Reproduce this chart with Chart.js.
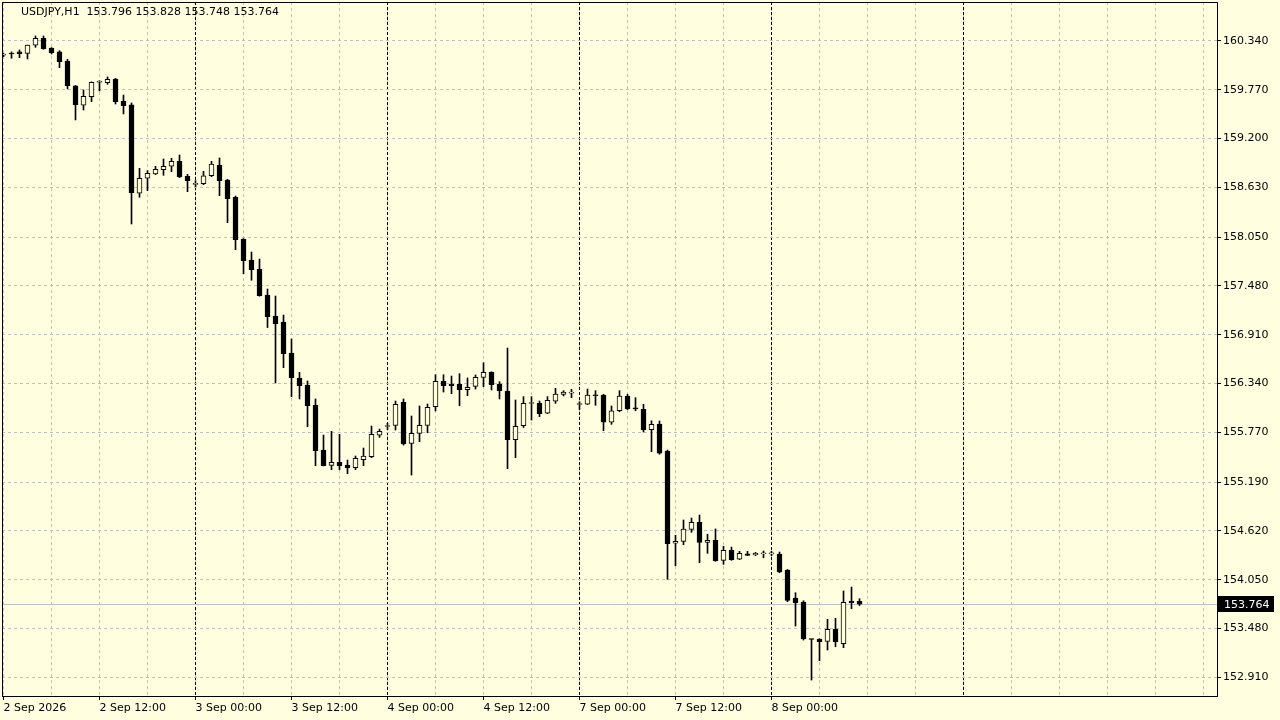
<!DOCTYPE html>
<html><head><meta charset="utf-8">
<script src="https://cdn.jsdelivr.net/npm/chart.js@4.4.1/dist/chart.umd.min.js"></script>
<style>html,body{margin:0;padding:0;background:#FFFFE0;overflow:hidden}#wrap{width:1280px;height:720px;position:relative}</style>
</head><body><div id="wrap"><canvas id="c" width="1280" height="720"></canvas></div>
<script>
const symbol = 'USDJPY,H1';
const opens = [160.175,160.196,160.212,160.196,160.290,160.372,160.258,160.212,160.106,159.815,
159.589,159.690,159.858,159.853,159.893,159.639,159.593,158.562,158.737,158.787,
158.837,158.877,158.935,158.760,158.665,158.674,158.767,158.892,158.717,158.515,
158.028,157.783,157.678,157.374,157.129,157.059,156.697,156.405,156.323,156.090,
155.564,155.385,155.420,155.389,155.357,155.451,155.486,155.736,155.839,155.850,
156.121,155.642,155.759,155.852,156.070,156.366,156.335,156.335,156.268,156.308,
156.413,156.471,156.335,156.253,155.684,155.848,156.107,156.113,155.993,156.133,
156.214,156.228,156.096,156.098,156.206,156.206,155.888,156.023,156.195,156.048,
156.039,155.801,155.868,155.552,154.475,154.498,154.638,154.720,154.486,154.510,
154.276,154.393,154.291,154.353,154.338,154.351,154.352,154.350,154.163,153.836,
153.789,153.355,153.357,153.330,153.470,153.302,153.801,153.796];
const highs = [160.196,160.212,160.235,160.293,160.398,160.398,160.262,160.227,160.126,159.820,
159.768,159.862,159.876,159.920,159.904,159.709,159.616,158.853,158.826,158.877,
158.962,158.970,159.009,158.783,158.709,158.818,158.935,158.974,158.725,158.530,
158.032,157.876,157.794,157.444,157.362,157.140,156.860,156.471,156.370,156.160,
155.739,155.782,155.747,155.447,155.494,155.587,155.844,155.809,155.876,156.136,
156.160,155.961,156.078,156.101,156.443,156.443,156.428,156.455,156.405,156.440,
156.583,156.478,156.362,156.755,156.148,156.187,156.187,156.136,156.187,156.284,
156.257,156.273,156.128,156.276,156.257,156.214,156.078,156.257,156.214,156.175,
156.098,155.906,155.903,155.564,154.568,154.747,154.770,154.805,154.580,154.642,
154.440,154.431,154.381,154.381,154.369,154.385,154.381,154.373,154.169,153.898,
153.804,153.357,153.360,153.587,153.599,153.918,153.964,153.828];
const lows = [160.157,160.138,160.145,160.130,160.266,160.243,160.188,160.028,159.780,159.418,
159.534,159.631,159.756,159.834,159.604,159.488,158.203,158.515,158.592,158.780,
158.772,158.814,158.744,158.580,158.639,158.662,158.755,158.534,158.218,157.903,
157.623,157.546,157.360,156.994,156.347,156.525,156.187,156.160,155.836,155.381,
155.378,155.334,155.334,155.287,155.334,155.381,155.474,155.712,155.801,155.798,
155.622,155.272,155.661,155.766,156.020,156.241,156.221,156.081,156.198,156.276,
156.303,156.265,156.160,155.346,155.474,155.827,155.914,155.953,155.988,156.109,
156.195,156.175,156.039,156.095,156.086,155.789,155.864,156.011,156.035,156.023,
155.774,155.544,155.514,154.054,154.213,154.458,154.603,154.248,154.358,154.264,
154.229,154.276,154.285,154.330,154.330,154.306,154.330,154.131,153.793,153.509,
153.345,152.878,153.104,153.229,153.267,153.256,153.711,153.748];
const closes = [160.180,160.188,160.192,160.293,160.372,160.250,160.203,160.098,159.818,159.596,
159.694,159.858,159.862,159.893,159.631,159.584,158.569,158.737,158.795,158.842,
158.877,158.935,158.755,158.709,158.669,158.764,158.904,158.709,158.499,158.020,
157.775,157.669,157.366,157.121,157.039,156.689,156.408,156.315,156.081,155.556,
155.381,155.420,155.381,155.357,155.467,155.494,155.747,155.782,155.843,156.098,
155.634,155.759,155.852,156.063,156.366,156.315,156.315,156.268,156.296,156.413,
156.471,156.327,156.257,155.684,155.841,156.109,156.111,155.988,156.144,156.218,
156.241,156.232,156.100,156.206,156.198,155.888,156.023,156.195,156.046,156.044,
155.798,155.865,155.526,154.470,154.498,154.642,154.720,154.486,154.510,154.271,
154.393,154.283,154.358,154.334,154.358,154.353,154.354,154.140,153.809,153.781,
153.357,153.352,153.326,153.470,153.326,153.786,153.781,153.764];
const timeTickIndex = [0,12,24,36,48,60,72,84,96];
const timeTickLabels = ['2 Sep 2026','2 Sep 12:00','3 Sep 00:00','3 Sep 12:00','4 Sep 00:00','4 Sep 12:00','7 Sep 00:00','7 Sep 12:00','8 Sep 00:00'];
const daySeparators = [24,48,72,96,120];
const priceTicks = [160.340,159.770,159.200,158.630,158.050,157.480,156.910,156.340,155.770,155.190,154.620,154.050,153.480,152.910];

const BG = '#FFFFE0';
const FONT = 'DejaVu Sans';
Chart.defaults.font.family = FONT;
Chart.defaults.font.size = 11;
Chart.defaults.color = '#000';

const gridIdx = [];
for (let v = 0; v <= 150; v += 6) gridIdx.push(v);
const X_MIN = -0.1875, X_MAX = 151.6875;

const bodies = opens.map((o, i) => ({x: i, y: [o, closes[i]]}));
const wicks = lows.map((l, i) => ({x: i, y: [l, highs[i]]}));
const isBull = i => closes[i] >= opens[i];

const noPad = s => { s.paddingTop = 0; s.paddingBottom = 0; s.paddingLeft = 0; s.paddingRight = 0; };

const decor = {
  id: 'decor',
  beforeDraw(chart) {
    const ctx = chart.ctx;
    ctx.save();
    ctx.fillStyle = BG;
    ctx.fillRect(0, 0, chart.width, chart.height);
    ctx.restore();
  },
  beforeDatasetsDraw(chart) {
    const ctx = chart.ctx, a = chart.chartArea;
    const y = Math.round(chart.scales.y.getPixelForValue(closes[closes.length - 1])) + 0.5;
    ctx.save();
    ctx.strokeStyle = '#C0C0C0';
    ctx.lineWidth = 1;
    ctx.beginPath();
    ctx.moveTo(a.left, y); ctx.lineTo(a.right, y);
    ctx.stroke();
    ctx.restore();
  },
  afterDraw(chart) {
    const ctx = chart.ctx, a = chart.chartArea;
    ctx.save();
    ctx.strokeStyle = '#000';
    ctx.lineWidth = 1;
    ctx.strokeRect(Math.round(a.left) + 0.5, Math.round(a.top) + 0.5, Math.round(a.right - a.left), Math.round(a.bottom - a.top));
    const n = closes.length - 1;
    ctx.font = '11px ' + FONT;
    ctx.fillStyle = '#000';
    ctx.textBaseline = 'middle';
    ctx.textAlign = 'left';
    ctx.fillText(symbol + '  ' + opens[n].toFixed(3) + ' ' + highs[n].toFixed(3) + ' ' + lows[n].toFixed(3) + ' ' + closes[n].toFixed(3), 21, 12);
    const y = Math.round(chart.scales.y.getPixelForValue(closes[n]));
    ctx.fillStyle = '#000';
    ctx.fillRect(a.right + 1, y - 8, 56, 16);
    ctx.fillStyle = '#FFF';
    ctx.fillText(closes[n].toFixed(3), a.right + 7, y + 1);
    ctx.restore();
  }
};

new Chart(document.getElementById('c'), {
  type: 'bar',
  data: {
    datasets: [
      {
        label: 'body', data: bodies, xAxisID: 'x', yAxisID: 'y', order: 0, grouped: false,
        barThickness: 5, minBarLength: 1, borderSkipped: false, borderWidth: 1,
        borderColor: '#000',
        backgroundColor: bodies.map((d, i) => isBull(i) ? BG : '#000')
      },
      {
        label: 'wick', data: wicks, xAxisID: 'x', yAxisID: 'y', order: 1, grouped: false,
        barThickness: 1, minBarLength: 1, borderWidth: 0, borderSkipped: false,
        backgroundColor: '#000'
      }
    ]
  },
  options: {
    responsive: false, animation: false, devicePixelRatio: 1,
    layout: {padding: {left: 2, top: 2, right: 0, bottom: 0}},
    plugins: {legend: {display: false}, tooltip: {enabled: false}},
    scales: {
      x: {
        type: 'linear', position: 'bottom', min: X_MIN, max: X_MAX, bounds: 'data',
        offset: false,
        afterBuildTicks: s => { s.ticks = gridIdx.map(v => ({value: v})); },
        afterFit: s => { s.height = 24; noPad(s); },
        grid: {
          offset: false, color: '#C0C0C0', lineWidth: 1, drawTicks: true, tickLength: 4,
          tickColor: c => (c.tick && timeTickIndex.includes(c.tick.value)) ? '#000' : 'rgba(0,0,0,0)'
        },
        border: {display: true, color: '#000', dash: [3, 3]},
        ticks: {
          autoSkip: false, maxRotation: 0, minRotation: 0, align: 'start', padding: 2, color: '#000',
          font: {family: FONT, size: 11},
          callback: v => { const k = timeTickIndex.indexOf(v); return k >= 0 ? timeTickLabels[k] : ''; }
        }
      },
      x2: {
        type: 'linear', position: 'bottom', min: X_MIN, max: X_MAX, bounds: 'data', offset: false,
        afterBuildTicks: s => { s.ticks = daySeparators.map(v => ({value: v})); },
        afterFit: s => { s.height = 0; noPad(s); },
        grid: {offset: false, color: '#000', lineWidth: 1, drawTicks: false},
        border: {display: false, dash: [3, 2]},
        ticks: {display: false}
      },
      y: {
        type: 'linear', position: 'right', min: 152.692, max: 160.795, beginAtZero: false, bounds: 'data',
        afterBuildTicks: s => { s.ticks = priceTicks.map(v => ({value: v})); },
        afterFit: s => { s.width = 63; noPad(s); },
        grid: {color: '#C0C0C0', lineWidth: 1, drawTicks: true, tickLength: 4, tickColor: '#000'},
        border: {display: true, color: '#000', dash: [3, 3]},
        ticks: {padding: 2, color: '#000', font: {family: FONT, size: 11}, callback: v => Number(v).toFixed(3)}
      }
    }
  },
  plugins: [decor]
});
</script>
</body></html>
